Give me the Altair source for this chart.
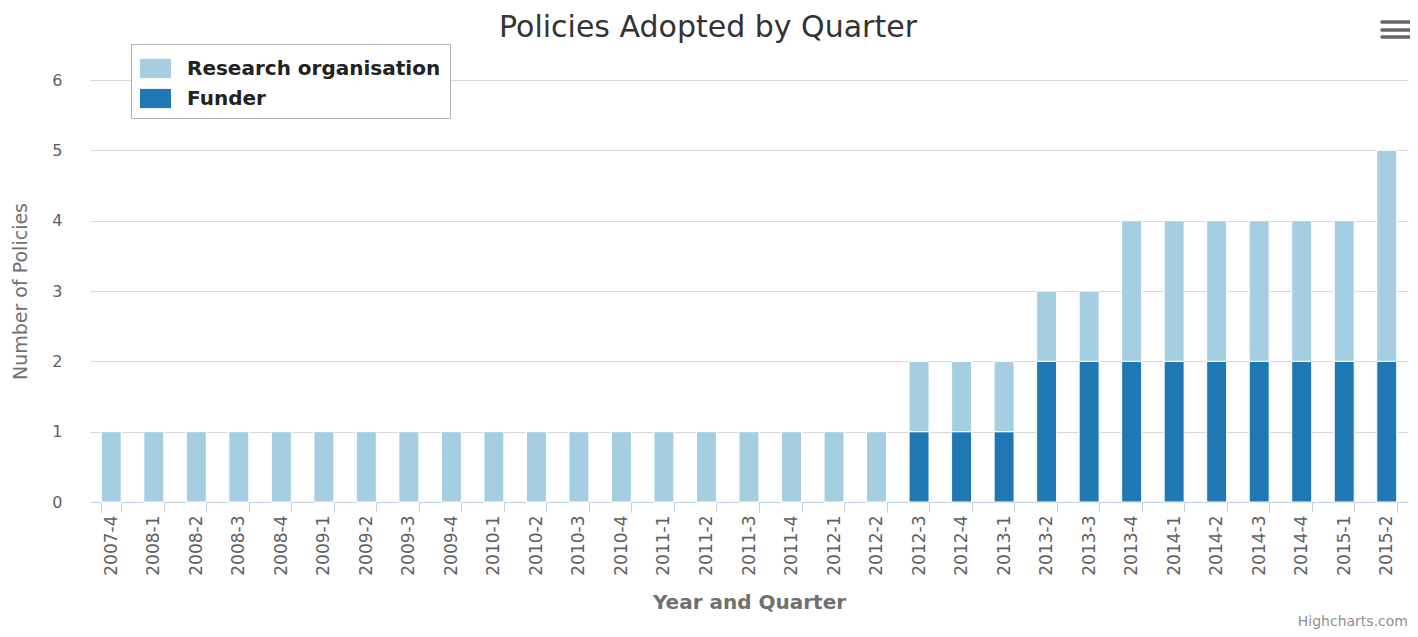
import altair as alt
import pandas as pd

quarters = ["2007-4",
            "2008-1", "2008-2", "2008-3", "2008-4",
            "2009-1", "2009-2", "2009-3", "2009-4",
            "2010-1", "2010-2", "2010-3", "2010-4",
            "2011-1", "2011-2", "2011-3", "2011-4",
            "2012-1", "2012-2", "2012-3", "2012-4",
            "2013-1", "2013-2", "2013-3", "2013-4",
            "2014-1", "2014-2", "2014-3", "2014-4",
            "2015-1", "2015-2"]
research_org = [1, 1, 1, 1, 1, 1, 1, 1, 1, 1, 1, 1, 1, 1, 1, 1, 1, 1, 1,
                1, 1, 1, 1, 1, 2, 2, 2, 2, 2, 2, 3]
funder = [0, 0, 0, 0, 0, 0, 0, 0, 0, 0, 0, 0, 0, 0, 0, 0, 0, 0, 0,
          1, 1, 1, 2, 2, 2, 2, 2, 2, 2, 2, 2]
series_names = ["Research organisation", "Funder"]
series_colors = ["#a6cee3", "#1f78b4"]
y_ticks = [0, 1, 2, 3, 4, 5, 6]
chart_title = "Policies Adopted by Quarter"
credit_text = "Highcharts.com"

rows = []
for q, r, f in zip(quarters, research_org, funder):
    rows.append({"quarter": q, "series": "Funder", "value": f, "ord": 0})
    rows.append({"quarter": q, "series": "Research organisation", "value": r, "ord": 1})
df = pd.DataFrame(rows)

FONT = "DejaVu Sans"

bars = alt.Chart(df).mark_bar(stroke="white", strokeWidth=1).encode(
    x=alt.X("quarter:N", sort=quarters,
            scale=alt.Scale(paddingInner=0.53, paddingOuter=0.265),
            axis=alt.Axis(title="Year and Quarter", labelAngle=270,
                          labelFontSize=17, labelColor="#606060", labelFont=FONT,
                          labelPadding=3, tickBand="extent", tickSize=10,
                          tickColor="#C0D0E0", domainColor="#C0D0E0",
                          domainWidth=1, grid=False,
                          titleFont=FONT, titleFontSize=20, titleColor="#707070",
                          titleFontWeight="bold", titlePadding=17)),
    y=alt.Y("value:Q", stack="zero",
            scale=alt.Scale(domain=[0, 6], nice=False),
            axis=alt.Axis(title="Number of Policies", values=y_ticks, format="d",
                          labelFontSize=16, labelColor="#606060", labelFont=FONT,
                          labelPadding=28, tickSize=0, ticks=False, domain=False,
                          gridColor="#D8D8D8", gridWidth=1,
                          titleFont=FONT, titleFontSize=19, titleColor="#707070",
                          titleFontWeight="normal", titlePadding=21)),
    color=alt.Color("series:N",
                    scale=alt.Scale(domain=series_names, range=series_colors),
                    legend=alt.Legend(title=None, orient="none", legendX=41, legendY=-36,
                                      fillColor="white", strokeColor="#B0B0B0",
                                      padding=9, rowPadding=4,
                                      symbolType="M-1,-0.62H1V0.62H-1Z",
                                      symbolSize=961, symbolStrokeWidth=0,
                                      symbolOpacity=1,
                                      labelFont=FONT, labelFontSize=20,
                                      labelFontWeight="bold", labelColor="#222222",
                                      labelOffset=16, labelLimit=400)),
    order=alt.Order("ord:Q", sort="ascending"),
)

title_mark = alt.Chart(pd.DataFrame({"t": [chart_title]})).mark_text(
    align="center", baseline="alphabetic", fontSize=30, font=FONT, color="#333333"
).encode(x=alt.value(618), y=alt.value(-43), text="t:N")

credit = alt.Chart(pd.DataFrame({"t": [credit_text]})).mark_text(
    align="right", baseline="bottom", fontSize=14, font=FONT, color="#909090"
).encode(x=alt.value(1318), y=alt.value(549), text="t:N")

menu_df = pd.DataFrame({"k": [0, 1, 2], "yy": [-58, -50, -43]})
menu = alt.Chart(menu_df).mark_rule(color="#666666", strokeWidth=3.5, strokeCap="round").encode(
    x=alt.value(1292), x2=alt.value(1320), y=alt.Y("yy:Q", scale=None)
)

chart = alt.layer(bars, title_mark, credit, menu).properties(
    width=1318, height=422,
    padding={"left": 82, "top": 72, "right": 2, "bottom": 127},
    autosize=alt.AutoSizeParams(type="none"),
).configure_view(stroke=None)

chart.save("out.html", embed_options={"renderer": "svg", "actions": False})
